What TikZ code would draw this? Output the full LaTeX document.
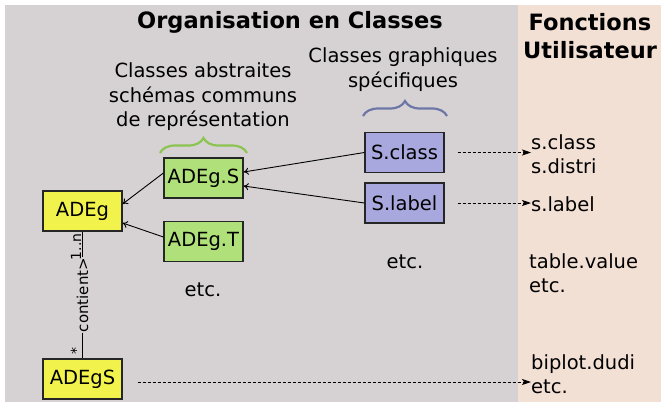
\documentclass[tikz,border=0pt]{standalone}
\usepackage{fontspec}
\setmainfont{DejaVu Sans}
\usetikzlibrary{arrows.meta,decorations.pathreplacing}

\definecolor{fondgris}{RGB}{214,210,212}
\definecolor{fondbeige}{RGB}{243,224,213}
\definecolor{jaune}{RGB}{242,242,76}
\definecolor{vert}{RGB}{176,224,122}
\definecolor{bleu}{RGB}{168,168,222}
\definecolor{vertacc}{RGB}{140,196,80}
\definecolor{bleuacc}{RGB}{110,118,168}

\tikzset{
	classe/.style = {draw = black!85, line width = 1.2pt, minimum width = 79pt, minimum height = 40pt, inner sep = 0pt, font = \fontsize{19.5}{23}\selectfont},
	texte/.style = {align = center, font = \fontsize{19.5}{24.5}\selectfont},
	fonction/.style = {align = left, anchor = west, inner sep = 0pt, font = \fontsize{19.5}{24}\selectfont},
	titre/.style = {align = center, font = \fontsize{22.5}{28}\selectfont\bfseries},
	fleche/.style = {line width = 0.9pt, -{To[length = 5pt, width = 7pt]}},
	pointille/.style = {line width = 0.9pt, dash pattern = on 3pt off 2pt, -{Stealth[length = 9pt, width = 6pt, inset = 2pt]}},
	accolade/.style = {decorate, decoration = {brace, amplitude = 15pt}, line width = 2.2pt},
	petit/.style = {rotate = 90, inner sep = 1pt, font = \fontsize{14}{16}\selectfont}
}

\begin{document}
\begin{tikzpicture}[x = 1pt, y = -1pt]
	\useasboundingbox (0,0) rectangle (661,402);
	\fill[fondgris] (5,5) rectangle (518,402);
	\fill[fondbeige] (518,5) rectangle (661,402);
	
	% titres
	\node[titre] (t-org) at (290,22) {Organisation en Classes};
	\node[titre] (t-fct) at (590,36) {Fonctions\\Utilisateur};
	
	% classes
	\node[classe, fill = jaune] (ADEg) at (82.5,211) {ADEg};
	\node[classe, fill = jaune] (ADEgS) at (82.5,379) {ADEgS};
	\node[classe, fill = vert] (ADEg-S) at (203.5,178) {ADEg.S};
	\node[classe, fill = vert] (ADEg-T) at (203.5,241.5) {ADEg.T};
	\node[classe, fill = bleu] (S-class) at (404.5,152.5) {S.class};
	\node[classe, fill = bleu] (S-label) at (404.5,203) {S.label};
	
	\node[texte] (t-abs) at (203,97) {Classes abstraites\\schémas communs\\de représentation};
	\node[texte] (t-gra) at (403,69.5) {Classes graphiques\\spécifiques};
	\node[texte] (etc-T) at (203,290) {etc.};
	\node[texte] (etc-S) at (405,262) {etc.};
	
	\draw[accolade, vertacc] (160,153) -- (247,153);
	\draw[accolade, bleuacc] (363,116) -- (447,116);
	
	% fonctions
	\node[fonction] (f-class) at (531,154.5) {s.class\\s.distri};
	\node[fonction] (f-label) at (531,204) {s.label};
	\node[fonction] (f-table) at (529,273.5) {table.value\\etc.};
	\node[fonction] (f-biplot) at (531,374.5) {biplot.dudi\\etc.};
	
	% heritage
	\draw[fleche] (S-class.west) -- ([yshift = 6pt]ADEg-S.east);
	\draw[fleche] (S-label.west) -- ([yshift = -8pt]ADEg-S.east);
	\draw[fleche] ([yshift = 5pt]ADEg-S.west) -- ([yshift = 7pt]ADEg.east);
	\draw[fleche] ([yshift = 4.5pt]ADEg-T.west) -- ([yshift = -12pt]ADEg.east);
	
	\draw[line width = 0.9pt] (ADEg.south) -- (ADEgS.north)
		node[pos = 0.5, rotate = 90, fill = fondgris, inner sep = 1pt, font = \fontsize{15}{17}\selectfont] {contient>}
		node[petit, pos = 0.12, anchor = south] {1..n}
		node[petit, pos = 0.94, anchor = south] {*};
	
	% appels
	\draw[pointille] ([xshift = 13pt]S-class.east) -- (S-class.east -| f-class.west);
	\draw[pointille] ([xshift = 13pt]S-label.east) -- (S-label.east -| f-label.west);
	\draw[pointille] ([xshift = 15pt, yshift = -3pt]ADEgS.east) -- ([yshift = -3pt]ADEgS.east -| f-biplot.west);
	
\end{tikzpicture}
\end{document}
